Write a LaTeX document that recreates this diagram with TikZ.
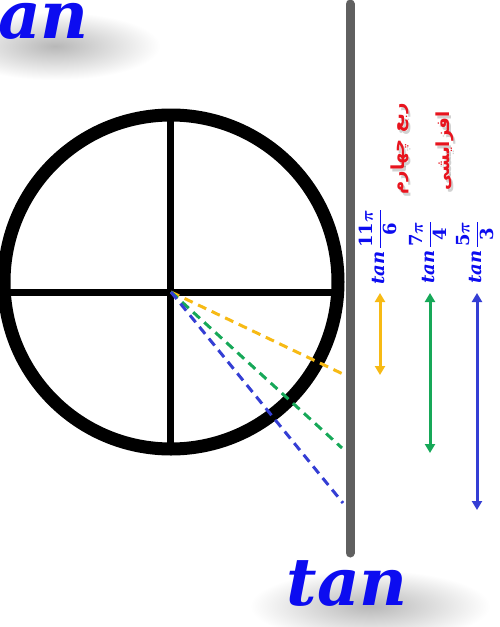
\documentclass[tikz,border=0pt]{standalone}
\usepackage{fontspec}
\usepackage{amsmath}
\setmainfont{DejaVu Serif}
\newfontfamily\arabicfont[Script=Arabic]{DejaVu Sans}
\TeXXeTstate=1
\usetikzlibrary{arrows.meta}
\definecolor{tgray}{RGB}{96,96,96}
\definecolor{tyellow}{RGB}{247,186,20}
\definecolor{tgreen}{RGB}{22,168,88}
\definecolor{tblue}{RGB}{52,62,212}
\definecolor{tred}{RGB}{232,20,30}
\definecolor{textblue}{RGB}{12,12,240}
\tikzset{
  circ/.style={line width=13pt,draw=black},
  cross/.style={line width=7pt,draw=black},
  tline/.style={line width=9pt,draw=tgray,line cap=round},
  dline/.style={line width=3pt,dash pattern=on 9pt off 6pt},
  darrow/.style={line width=3pt,{Triangle[width=10pt,length=9pt]}-{Triangle[width=10pt,length=9pt]}},
  bigtan/.style={font=\fontsize{66}{66}\selectfont\bfseries\itshape,text=textblue,inner sep=0pt},
  haze/.style={inner color=black!28,outer color=white},
  lbl/.style={rotate=90,anchor=west,text=textblue,font=\fontsize{18}{22}\selectfont\bfseries\itshape,inner sep=0pt},
  red/.style={rotate=90,text=tred,font=\fontsize{18}{22}\selectfont\arabicfont\bfseries,inner sep=0pt},
  redshadow/.style={rotate=90,text=black,opacity=0.18,font=\fontsize{18}{22}\selectfont\arabicfont\bfseries,inner sep=0pt}
}
\begin{document}
\begin{tikzpicture}[x=1pt,y=-1pt]
\useasboundingbox (0,0) rectangle (500,627);
\fill[white] (0,0) rectangle (500,627);
% soft shadows under the big texts
\shade[haze] (370,606) ellipse[x radius=120,y radius=36];
\shade[haze] (55,46) ellipse[x radius=105,y radius=34];
\node[bigtan,anchor=base east] (toptan) at (89,38) {tan};
\node[bigtan,anchor=base east] (bottan) at (408,605) {tan};
% circle and cross
\coordinate (C) at (171,282);
\coordinate (O) at (171,292);
\draw[circ] (C) circle[radius=167];
\coordinate (L) at (4,292);
\coordinate (R) at (338,292);
\coordinate (T) at (170,115);
\coordinate (B) at (170,449);
\draw[cross] (L) -- (R);
\draw[cross] (T) -- (B);
% tangent line
\coordinate (G1) at (350,4);
\coordinate (G2) at (350,553);
\draw[tline] (G1) -- (G2);
% dashed lines
\coordinate (Y) at (345,375);
\coordinate (Gr) at (342,448);
\coordinate (Bl) at (343,503);
\draw[dline,tyellow] (O) -- (Y);
\draw[dline,tgreen] (O) -- (Gr);
\draw[dline,tblue] (O) -- (Bl);
% arrows
\coordinate (a1) at (380,293); \coordinate (b1) at (380,375);
\coordinate (a2) at (430,293); \coordinate (b2) at (430,453);
\coordinate (a3) at (477,293); \coordinate (b3) at (477,510);
\draw[darrow,tyellow] (a1) -- (b1);
\draw[darrow,tgreen] (a2) -- (b2);
\draw[darrow,tblue] (a3) -- (b3);
% labels
\node[lbl] (l1) at (378,285) {tan\,$\dfrac{\mathbf{11}\boldsymbol{\pi}}{\mathbf{6}}$};
\node[lbl] (l2) at (428,284) {tan\,$\dfrac{\mathbf{7}\boldsymbol{\pi}}{\mathbf{4}}$};
\node[lbl] (l3) at (475,284) {tan\,$\dfrac{\mathbf{5}\boldsymbol{\pi}}{\mathbf{3}}$};
% red texts
\node[redshadow] at (402,152) {\beginR ربع چهارم\endR};
\node[redshadow] at (447,154) {\beginR افزایشی\endR};
\node[red] (r1) at (400,149) {\beginR ربع چهارم\endR};
\node[red] (r2) at (445,151) {\beginR افزایشی\endR};
\end{tikzpicture}
\end{document}
